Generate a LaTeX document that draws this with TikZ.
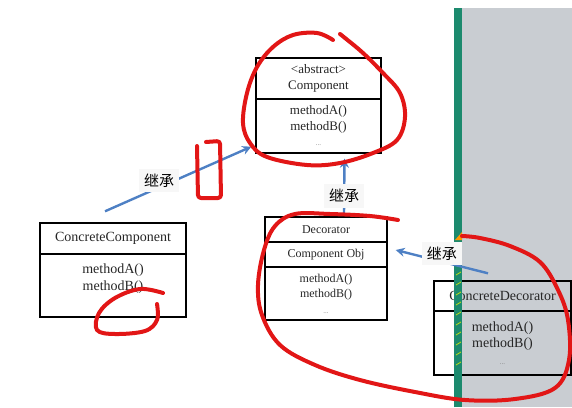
\documentclass[tikz,border=0pt]{standalone}
\usepackage{fontspec}
\setmainfont{Liberation Serif}
\newfontfamily\cjk{Noto Sans CJK SC}
\usetikzlibrary{arrows.meta}

\definecolor{panelgray}{RGB}{201,205,210}
\definecolor{stripegreen}{RGB}{28,138,110}
\definecolor{arrowblue}{RGB}{78,128,196}
\definecolor{penred}{RGB}{226,22,22}

\tikzstyle{classhead} = [draw,line width=1.4pt,inner sep=0pt,align=center,text=black!85,font=\fontsize{13}{15.5}\selectfont]
\tikzstyle{classbody} = [classhead]
\tikzstyle{inherit} = [arrowblue,line width=2.4pt,-{Stealth[length=9pt,width=9pt]}]
\tikzstyle{tag} = [fill=gray!6,inner sep=5pt,font=\cjk\fontsize{15}{15}\selectfont,text=black]
\tikzstyle{redpen} = [penred,line width=4pt,line cap=round,line join=round]

\newcommand{\more}{{\color{gray}\fontsize{7}{8}\selectfont ...}}

\begin{document}
\begin{tikzpicture}[x=1pt,y=-1pt]
	\useasboundingbox (0,0) rectangle (572,407);
	% grey window on the right
	\fill[panelgray] (462,8) rectangle (572,407);

	% classes
	\node[classhead,minimum width=125pt,minimum height=41pt] (comphead) at (318.5,78.5) {<abstract>\\Component};
	\node[classbody,minimum width=125pt,minimum height=54pt] (compbody) at (318.5,126) {methodA()\\methodB()\\\more};

	\node[classhead,minimum width=146pt,minimum height=31pt,font=\fontsize{14}{16.5}\selectfont] (cchead) at (113,238.5) {ConcreteComponent};
	\node[classbody,minimum width=146pt,minimum height=63pt,font=\fontsize{14}{16.5}\selectfont] (ccbody) at (113,285.5) {methodA()\\methodB()\\\mbox{}};

	\node[classhead,minimum width=122pt,minimum height=25pt,font=\fontsize{12}{15}\selectfont] (decohead) at (326,229.5) {Decorator};
	\node[classbody,minimum width=122pt,minimum height=25pt,font=\fontsize{12}{15}\selectfont] (decomid) at (326,254.5) {Component Obj};
	\node[classbody,minimum width=122pt,minimum height=53pt,font=\fontsize{12}{15.5}\selectfont] (decobody) at (326,293.5) {methodA()\\methodB()\\\more};

	\node[classhead,minimum width=137pt,minimum height=30pt,font=\fontsize{14}{16.5}\selectfont] (cdhead) at (502.5,296) {ConcreteDecorator};
	\node[classbody,minimum width=137pt,minimum height=64pt,font=\fontsize{14}{16.5}\selectfont] (cdbody) at (502.5,343) {methodA()\\methodB()\\\more};

	% green window edge
	\fill[stripegreen] (454,8) rectangle (462,407);
	\fill[orange!80!yellow] (455,240) -- (462,232) -- (462,240) -- cycle;
	\foreach \y in {272,282,...,362}
		\draw[yellow!70!green,line width=.8pt] (456,\y+3) -- (461,\y);

	% inheritance arrows
	\draw[inherit] ([xshift=-8pt,yshift=11pt]cchead.north) -- node[tag,pos=.37,yshift=7pt] {继承} ([xshift=-4pt,yshift=7pt]compbody.south west);
	\draw[inherit] ([xshift=18pt,yshift=2pt]decohead.north) -- node[tag,pos=.33] {继承} ([xshift=26pt,yshift=-5pt]compbody.south);
	\draw[inherit] ([xshift=-14.5pt,yshift=7pt]cdhead.north) -- node[tag,pos=.5,yshift=8pt] {继承} ([xshift=8pt,yshift=4.5pt]decomid.east);

	% hand drawn marks
	\draw[redpen] plot[smooth,tension=.6] coordinates {(333,40) (317,33) (293,35) (273,47) (257,67) (247,93) (243,123) (250,143) (267,157) (307,165) (340,163) (373,153) (397,140) (405,117) (400,93) (383,73) (363,53) (345,38) (340,34)};
	\draw[redpen,rounded corners=3pt] (206,142) -- (220,141) -- (221,198) -- (198,198) -- (197,146);
	\draw[redpen] plot[smooth,tension=.6] coordinates {(163,293) (140,289) (115,298) (99,313) (97,330) (115,334) (145,331) (157,320) (157,304)};
	\draw[redpen] plot[smooth,tension=.6] coordinates {(398,220) (370,216) (330,214) (295,214) (275,226) (264,250) (258,285) (262,315) (280,345) (315,365) (360,380) (415,392) (465,400) (515,399) (555,388) (569,360) (568,320) (558,290) (540,262) (510,246) (480,238) (462,236)};
\end{tikzpicture}
\end{document}
